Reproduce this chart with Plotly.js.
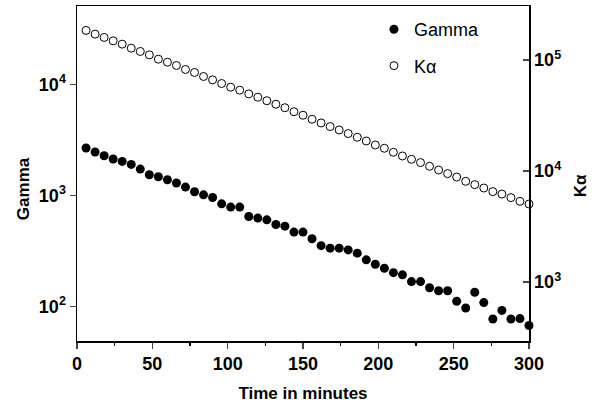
<!DOCTYPE html>
<html>
<head>
<meta charset="utf-8">
<script src="https://cdn.plot.ly/plotly-3.0.1.min.js"></script>
<style>html,body{margin:0;padding:0;background:#fff;}#chart{width:606px;height:405px;}</style>
</head>
<body>
<div id="chart"></div>
<script>
// Time (minutes)
const timeMin = [6,12,18,24,30,36,42,48,54,60,66,72,78,84,90,96,102,108,114,120,
  126,132,138,144,150,156,162,168,174,180,186,192,198,204,210,216,222,228,234,240,
  246,252,258,264,270,276,282,288,294,300];
// Gamma counts (left axis)
const gamma = [2666,2455,2271,2121,2019,1897,1723,1531,1469,1380,
  1289,1186,1076,1010,955,838,783,783,644,623,
  601,545,527,466,466,406,352,334,334,322,
  301,262,239,220,201,192,167,167,147,138,
  138,111,96.6,134,108,76.9,91.8,76.9,77.5,67.1];
// K-alpha counts (right axis)
const kalpha = [184800,171100,159700,148900,139000,127900,119400,111300,101800,95600,
  89300,82160,77200,71060,66220,61440,56900,53460,49500,46230,
  42990,39970,37170,34210,31810,29270,27100,25150,23440,21750,
  20140,18650,17160,16030,14750,13660,12750,11910,11030,10210,
  9475,8830,8075,7540,7025,6520,6200,5755,5330,5040];
const xTicks = [0,50,100,150,200,250,300];

const F = 'Arial, "Liberation Sans", Helvetica, sans-serif';

const traces = [
  {x: timeMin, y: gamma, name: 'Gamma', type: 'scatter', mode: 'markers',
   legendgroup: 'g1', cliponaxis: false,
   marker: {symbol: 'circle', size: 9, color: '#000'}},
  {x: timeMin, y: kalpha, name: 'K\u03b1', type: 'scatter', mode: 'markers',
   yaxis: 'y2', legendgroup: 'g2', cliponaxis: false,
   marker: {symbol: 'circle-open', size: 8, color: '#000', line: {width: 1, color: '#000'}}}
];

const layout = {
  width: 606, height: 405,
  margin: {l: 77, r: 77, t: 6, b: 64},
  paper_bgcolor: '#fff', plot_bgcolor: '#fff',
  font: {family: F, color: '#000'},
  showlegend: true,
  legend: {x: 0.657, y: 0.985, xanchor: 'left', yanchor: 'top',
    font: {family: F, size: 18, color: '#000'},
    traceorder: 'grouped', tracegroupgap: 10, bgcolor: 'rgba(0,0,0,0)', borderwidth: 0},
  xaxis: {
    range: [0, 300], tickvals: xTicks, ticks: 'outside', ticklen: 6, tickwidth: 1.5,
    showline: true, linewidth: 1.5, linecolor: '#000', mirror: true,
    showgrid: false, zeroline: false,
    minor: {dtick: 25, ticks: 'outside', ticklen: 3.5, tickwidth: 1.5, tickcolor: '#000', showgrid: false},
    tickfont: {family: F, size: 18, weight: 'bold'},
    title: {text: '<b>Time in minutes</b>', font: {family: F, size: 17}, standoff: 14}
  },
  yaxis: {
    type: 'log', range: [Math.log10(48.7), Math.log10(50700)],
    tickvals: [100, 1000, 10000], ticktext: ['10<sup>2</sup>','10<sup>3</sup>','10<sup>4</sup>'],
    ticks: 'outside', ticklen: 6, tickwidth: 1.5,
    showline: true, linewidth: 1.5, linecolor: '#000',
    showgrid: false, zeroline: false,
    tickfont: {family: F, size: 18, weight: 'bold'}
  },
  yaxis2: {
    type: 'log', overlaying: 'y', side: 'right', anchor: 'x',
    range: [Math.log10(294), Math.log10(306700)],
    tickvals: [1000, 10000, 100000], ticktext: ['10<sup>3</sup>','10<sup>4</sup>','10<sup>5</sup>'],
    ticks: 'inside', ticklen: 6, tickwidth: 1.5,
    showline: true, linewidth: 1.5, linecolor: '#000',
    showgrid: false, zeroline: false,
    tickfont: {family: F, size: 18, weight: 'bold'}
  },
  annotations: [
    {text: '<b>Gamma</b>', xref: 'paper', yref: 'paper', x: (23.5 - 77) / 452, y: (340.7 - 188.5) / 334.7,
     textangle: -90, showarrow: false, xanchor: 'center', yanchor: 'middle', font: {family: F, size: 17}},
    {text: '<b>K\u03b1</b>', xref: 'paper', yref: 'paper', x: (580.5 - 77) / 452, y: (340.7 - 185.7) / 334.7,
     textangle: -90, showarrow: false, xanchor: 'center', yanchor: 'middle', font: {family: F, size: 17}}
  ]
};

Plotly.newPlot('chart', traces, layout, {staticPlot: true, displayModeBar: false});
</script>
</body>
</html>
